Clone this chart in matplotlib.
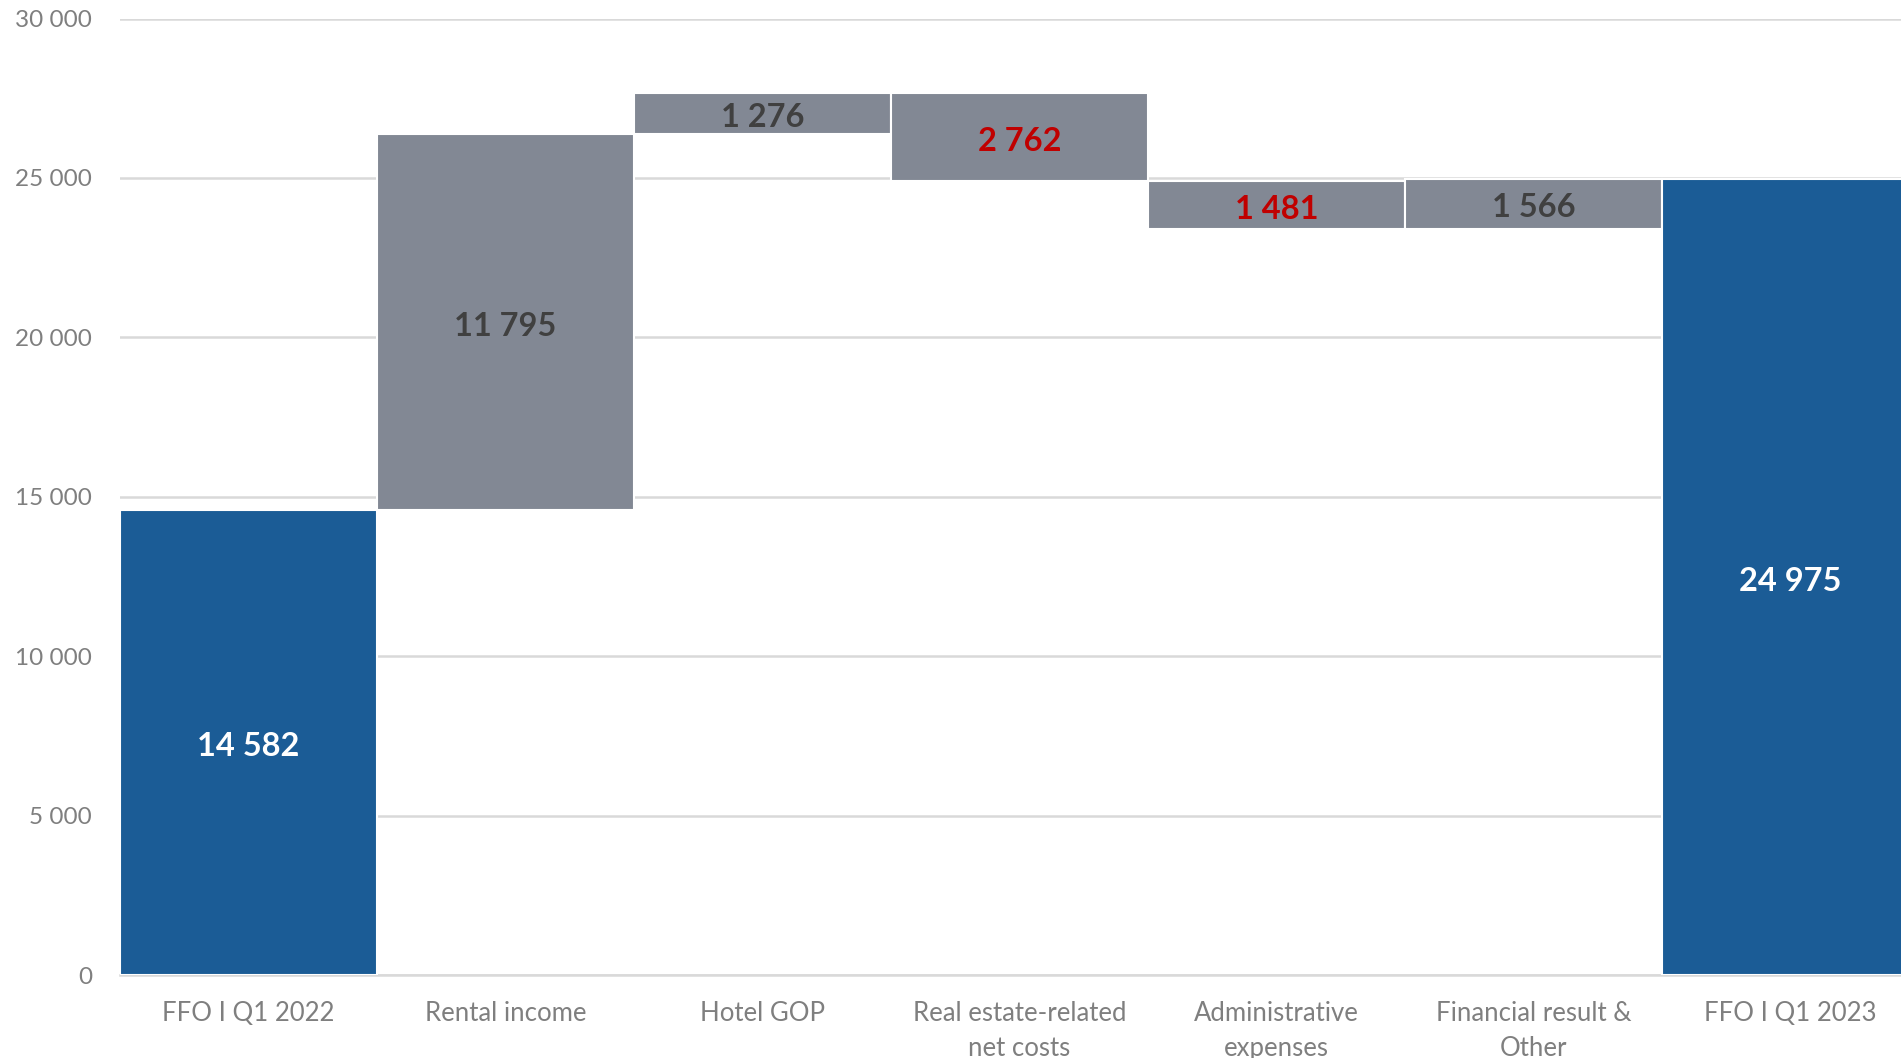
import matplotlib
matplotlib.use("Agg")
import matplotlib.pyplot as plt
import numpy as np

categories = ["FFO I Q1 2022", "Rental income", "Hotel GOP", "Real estate-related\nnet costs",
              "Administrative\nexpenses", "Financial result &\nOther", "FFO I Q1 2023"]
start_value = 14582
deltas = [11795, 1276, -2762, -1481, 1566]
end_value = 24975
yticks = [0, 5000, 10000, 15000, 20000, 25000, 30000]

BLUE = "#1B5C96"
GREY = "#828894"
DARK = "#404040"
RED = "#C00000"
TICK = "#7F7F7F"
GRID = "#D9D9D9"

plt.rcParams['font.family'] = ['Lato', 'DejaVu Sans']

fig = plt.figure(figsize=(19.01, 10.58), dpi=100)
left = 120 / 1901
width = 7 * 257 / 1901
bottom = 1 - 975 / 1058
top = 1 - 18.5 / 1058
ax = fig.add_axes([left, bottom, width, top - bottom])

x = np.arange(len(categories))
# running totals
levels = [start_value]
for d in deltas:
    levels.append(levels[-1] + d)

bottoms = [0]
heights = [start_value]
colors = [BLUE]
for i, d in enumerate(deltas):
    prev = levels[i]
    bottoms.append(prev if d >= 0 else prev + d)
    heights.append(abs(d))
    colors.append(GREY)
bottoms.append(0)
heights.append(end_value)
colors.append(BLUE)

ax.bar(x, heights, bottom=bottoms, width=1.0, color=colors, edgecolor="white", linewidth=1.5, zorder=3)

labels = [start_value] + [abs(d) for d in deltas] + [end_value]
for i, (b, h, v) in enumerate(zip(bottoms, heights, labels)):
    if i in (0, len(labels) - 1):
        c = "white"
    else:
        c = RED if deltas[i - 1] < 0 else DARK
    ax.annotate(f"{v:,}".replace(",", " "), (x[i], b + h / 2), xytext=(0, -3),
                textcoords="offset points", ha="center", va="center",
                fontsize=23.5, fontweight="bold", color=c, zorder=4)

ax.set_xlim(-0.5, 6.5)
ax.set_ylim(0, 30000)
ax.set_yticks(yticks)
ax.set_yticklabels([f"{t:,}".replace(",", " ") for t in yticks], fontsize=17.5, color=TICK)
ax.set_xticks(x)
ax.set_xticklabels(categories, fontsize=18.5, color=TICK, linespacing=1.5, va="top")
ax.tick_params(axis="both", length=0)
ax.tick_params(axis="y", pad=20)
ax.tick_params(axis="x", pad=19)
ax.yaxis.grid(True, color=GRID, linewidth=1.8, zorder=0)
ax.set_axisbelow(True)
for s in ["top", "right", "left"]:
    ax.spines[s].set_visible(False)
ax.spines["bottom"].set_color(GRID)
ax.spines["bottom"].set_linewidth(1.8)

fig.savefig("out.png", dpi=100)
